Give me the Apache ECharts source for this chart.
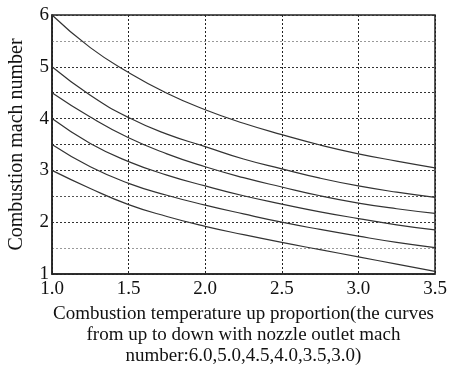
<!DOCTYPE html>
<html>
<head>
<meta charset="utf-8">
<script src="https://cdn.jsdelivr.net/npm/echarts@6/dist/echarts.min.js"></script>
<style>
  html, body { margin: 0; padding: 0; background: #fff; }
  #chart { width: 452px; height: 365px; }
</style>
</head>
<body>
<div id="chart"></div>
<script>
// temperature-up proportion sample points
const ratios = [1.0, 1.25, 1.5, 1.75, 2.0, 2.25, 2.5, 2.75, 3.0, 3.25, 3.5];

// combustion mach number, one curve per nozzle outlet mach number
const nozzleMach = ['6.0', '5.0', '4.5', '4.0', '3.5', '3.0'];
const mach60 = [6.0, 5.37, 4.89, 4.49, 4.17, 3.91, 3.69, 3.49, 3.32, 3.18, 3.05];
const mach50 = [5.0, 4.45, 4.02, 3.70, 3.46, 3.22, 3.03, 2.85, 2.70, 2.58, 2.48];
const mach45 = [4.5, 4.03, 3.63, 3.32, 3.07, 2.86, 2.68, 2.51, 2.37, 2.26, 2.17];
const mach40 = [4.0, 3.52, 3.17, 2.91, 2.70, 2.51, 2.35, 2.20, 2.07, 1.95, 1.85];
const mach35 = [3.5, 3.07, 2.75, 2.52, 2.33, 2.16, 2.00, 1.86, 1.73, 1.61, 1.51];
const mach30 = [3.0, 2.65, 2.34, 2.11, 1.92, 1.76, 1.61, 1.47, 1.33, 1.19, 1.05];
const curves = [mach60, mach50, mach45, mach40, mach35, mach30];

const xTitle = 'Combustion temperature up proportion(the curves\nfrom up to down with nozzle outlet mach\nnumber:6.0,5.0,4.5,4.0,3.5,3.0)';
const yTitle = 'Combustion mach number';

const serif = '"Liberation Serif", "Times New Roman", serif';

// grid lines at 1.0 ... 6.0 step 0.5; the 1.5 and 5.5 ones print lighter
const hLineColors = ['#333', '#999', '#333', '#555', '#333', '#333', '#333', '#333', '#333', '#999', '#333'];

const chart = echarts.init(document.getElementById('chart'));
chart.setOption({
  animation: false,
  backgroundColor: '#fff',
  grid: {
    left: 52, right: 17, top: 15, bottom: 91,
    outerBoundsMode: 'none',
    show: true, borderColor: '#222', borderWidth: 1.5
  },
  xAxis: {
    type: 'value',
    min: 1, max: 3.5, interval: 0.5,
    name: xTitle,
    nameLocation: 'middle',
    nameGap: 27,
    nameTextStyle: { fontFamily: serif, fontSize: 19, color: '#111', lineHeight: 21 },
    axisLine: { show: true, lineStyle: { color: '#222', width: 1.5 } },
    axisTick: { show: false },
    axisLabel: {
      fontFamily: serif, fontSize: 19, color: '#111', margin: 6,
      formatter: v => v.toFixed(1)
    },
    splitLine: { show: true, lineStyle: { color: '#222', type: [2, 2], width: 1 } }
  },
  yAxis: {
    type: 'value',
    min: 1, max: 6, interval: 0.5,
    name: yTitle,
    nameLocation: 'middle',
    nameRotate: 90,
    nameGap: 25,
    nameTextStyle: { fontFamily: serif, fontSize: 20, color: '#111' },
    axisLine: { show: true, lineStyle: { color: '#222', width: 1.5 } },
    axisTick: { show: false },
    axisLabel: {
      fontFamily: serif, fontSize: 19, color: '#111', margin: 3,
      formatter: v => (Number.isInteger(v) ? String(v) : '')
    },
    splitLine: { show: true, lineStyle: { color: hLineColors, type: [2, 2], width: 1 } }
  },
  series: curves.map((vals, i) => ({
    name: nozzleMach[i],
    type: 'line',
    smooth: true,
    showSymbol: false,
    lineStyle: { color: '#333', width: 1.2 },
    data: ratios.map((r, j) => [r, vals[j]])
  }))
});
</script>
</body>
</html>
